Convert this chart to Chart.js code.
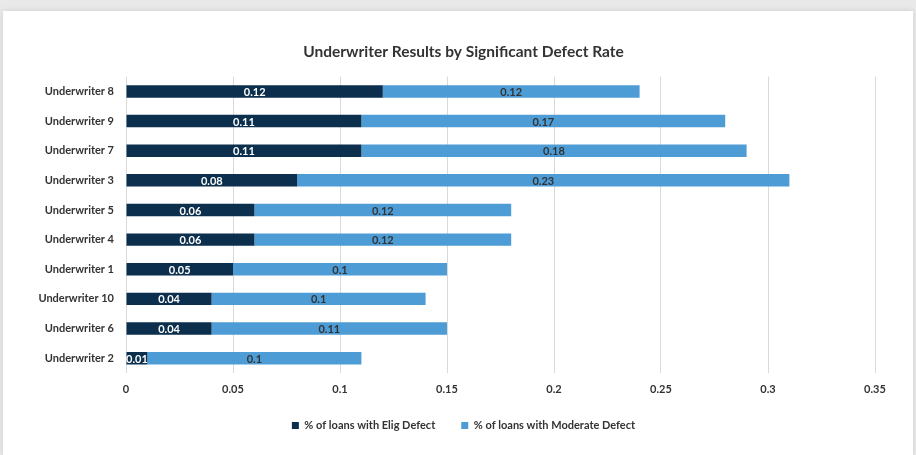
<!DOCTYPE html>
<html>
<head>
<meta charset="utf-8">
<script src="https://cdn.jsdelivr.net/npm/chart.js@4/dist/chart.umd.min.js"></script>
<style>
  html, body { margin: 0; padding: 0; background: #e9e9e9; }
  #card { position: absolute; left: 3px; top: 11px; width: 910px; height: 444px; background: #fff; box-shadow: 0 0 6px rgba(0,0,0,0.12); }
  #wrap { position: absolute; left: 0; top: 0; width: 916px; height: 455px; }
</style>
</head>
<body>
<div id="card"></div>
<div id="wrap"><canvas id="myChart" width="916" height="455"></canvas></div>
<script>
const categories = ['Underwriter 8', 'Underwriter 9', 'Underwriter 7', 'Underwriter 3', 'Underwriter 5',
    'Underwriter 4', 'Underwriter 1', 'Underwriter 10', 'Underwriter 6', 'Underwriter 2'];
const eligDefect = [0.12, 0.11, 0.11, 0.08, 0.06, 0.06, 0.05, 0.04, 0.04, 0.01];
const moderateDefect = [0.12, 0.17, 0.18, 0.23, 0.12, 0.12, 0.1, 0.1, 0.11, 0.1];
const xTicks = ['0', '0.05', '0.1', '0.15', '0.2', '0.25', '0.3', '0.35'];

const FONT = 'Lato, "Open Sans", sans-serif';

// draws the value in the middle of each bar
const barLabels = {
    id: 'barLabels',
    afterDatasetsDraw(chart) {
        const ctx = chart.ctx;
        ctx.save();
        ctx.font = 'bold 11px ' + FONT;
        ctx.textAlign = 'center';
        ctx.textBaseline = 'middle';
        chart.data.datasets.forEach((ds, i) => {
            chart.getDatasetMeta(i).data.forEach((bar, j) => {
                const mid = (bar.x + bar.base) / 2;
                ctx.fillStyle = i === 0 ? '#ffffff' : '#333333';
                ctx.fillText(String(ds.data[j]), mid, bar.y + 1);
            });
        });
        ctx.restore();
    }
};

// the original centres title and legend a bit right of the canvas middle
const nudge = {
    id: 'nudge',
    afterLayout(chart) {
        [chart.titleBlock, chart.legend].forEach(b => {
            if (b) { b.left += 26; b.right += 26; }
        });
    }
};

const data = {
    labels: categories,
    datasets: [{
        label: '% of loans with Elig Defect',
        backgroundColor: '#0b2f4c',
        data: eligDefect,
    }, {
        label: '% of loans with Moderate Defect',
        backgroundColor: '#4e9cd6',
        data: moderateDefect,
    }]
};

const config = {
    type: 'bar',
    data: data,
    plugins: [barLabels, nudge],
    options: {
        responsive: false,
        animation: false,
        indexAxis: 'y',
        categoryPercentage: 1,
        barPercentage: 0.42,
        layout: { padding: { top: 43, right: 41, bottom: 14, left: 0 } },
        plugins: {
            title: {
                display: true,
                text: 'Underwriter Results by Significant Defect Rate',
                color: '#333',
                font: { family: FONT, size: 15.5, weight: 'bold' },
                padding: { top: 0, bottom: 15 }
            },
            legend: {
                position: 'bottom',
                labels: {
                    boxWidth: 7,
                    boxHeight: 7,
                    padding: 26,
                    color: '#333',
                    font: { family: FONT, size: 11, weight: 'bold' }
                }
            },
            tooltip: { enabled: false }
        },
        scales: {
            x: {
                stacked: true,
                min: 0,
                max: 0.35,
                ticks: {
                    stepSize: 0.05,
                    padding: 10,
                    color: '#333',
                    font: { family: FONT, size: 11, weight: 'bold' },
                    callback: (v, i) => xTicks[i]
                },
                grid: { color: '#d9d9d9', drawTicks: false },
                border: { display: false },
                afterFit: (s) => { s.height = 21; }
            },
            y: {
                stacked: true,
                ticks: {
                    padding: 4,
                    color: '#333',
                    font: { family: FONT, size: 11, weight: 'bold' }
                },
                grid: { display: false },
                border: { display: false },
                afterFit: (s) => { s.width = 126; }
            }
        }
    }
};

document.addEventListener('DOMContentLoaded', (event) => {
    const myChart = new Chart(document.getElementById('myChart'), config);
});
</script>
</body>
</html>
